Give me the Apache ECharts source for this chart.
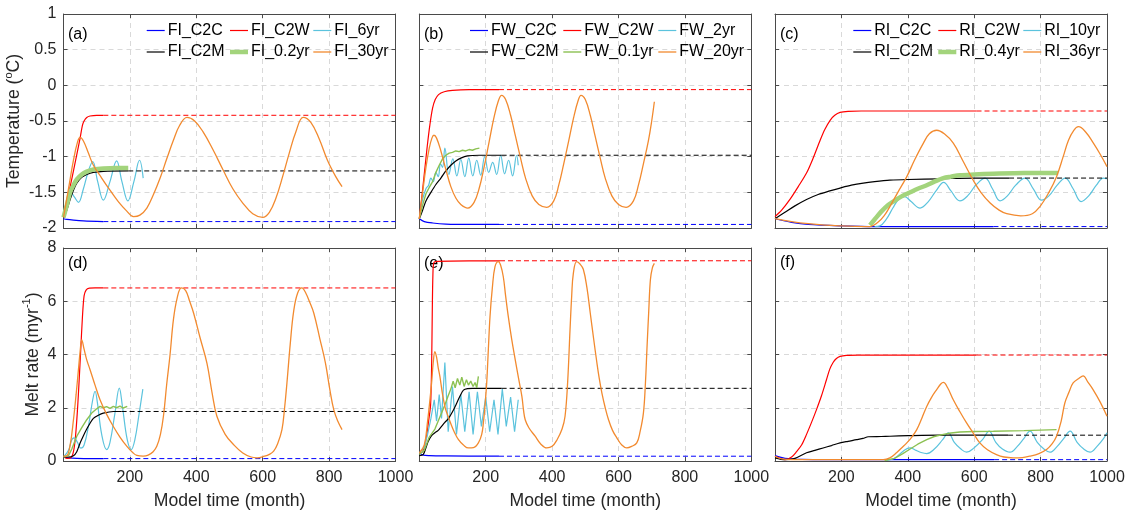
<!DOCTYPE html>
<html><head><meta charset="utf-8">
<script src="https://cdn.jsdelivr.net/npm/echarts@6/dist/echarts.min.js"></script>
<style>html,body{margin:0;padding:0;background:#fff}#c{width:1128px;height:511px}</style>
</head><body><div id="c"></div>
<script>
// ---------------- DATA (month, value) ----------------
// Panel (a) temperature, FI
const FI_C2C_T = [[0,-1.87],[10,-1.88],[30,-1.89],[60,-1.9],[120,-1.91]];
const FI_C2C_T_ext = [[120,-1.91],[1000,-1.91]];
const FI_C2W_T = [[0,-1.85],[10,-1.64],[20,-1.42],[30,-1.2],[40,-0.97],[50,-0.74],[57,-0.56],[62,-0.5],[70,-0.45],[80,-0.43],[100,-0.42],[120,-0.42]];
const FI_C2W_T_ext = [[120,-0.42],[1000,-0.42]];
const FI_6yr_T = [[0,-1.86],[10,-1.65],[22,-1.5],[32,-1.56],[45,-1.64],[60,-1.45],[75,-1.2],[88,-1.07],[103,-1.35],[120,-1.61],[140,-1.35],[160,-1.06],[176,-1.35],[194,-1.62],[212,-1.35],[229,-1.05],[240,-1.3]];
const FI_C2M_T = [[0,-1.86],[10,-1.75],[20,-1.6],[30,-1.47],[40,-1.37],[55,-1.29],[70,-1.25],[90,-1.22],[120,-1.205],[195,-1.2]];
const FI_C2M_T_ext = [[195,-1.2],[1000,-1.2]];
const FI_02yr_T = [[0,-1.85],[10,-1.68],[20,-1.5],[30,-1.4],[40,-1.32],[55,-1.25],[70,-1.21],[90,-1.18],[120,-1.165],[160,-1.16],[195,-1.16]];
const FI_30yr_T = [[0,-1.85],[15,-1.45],[30,-1.05],[42,-0.8],[50,-0.73],[60,-0.78],[75,-0.95],[90,-1.12],[115,-1.3],[140,-1.47],[165,-1.63],[190,-1.76],[211,-1.84],[230,-1.82],[251,-1.72],[271,-1.53],[291,-1.3],[311,-1.03],[331,-0.77],[350,-0.56],[372,-0.45],[395,-0.5],[420,-0.65],[450,-0.9],[480,-1.18],[510,-1.45],[540,-1.65],[570,-1.8],[600,-1.85],[620,-1.78],[640,-1.58],[660,-1.28],[680,-0.95],[700,-0.65],[722,-0.45],[745,-0.52],[770,-0.75],[795,-1.05],[820,-1.28],[839,-1.42]];

// Panel (b) temperature, FW
const FW_C2C_T = [[0,-1.87],[15,-1.91],[40,-1.93],[80,-1.945],[150,-1.95],[240,-1.95]];
const FW_C2C_T_ext = [[240,-1.95],[1000,-1.95]];
const FW_C2W_T = [[0,-1.87],[8,-1.55],[16,-1.2],[24,-0.85],[32,-0.55],[40,-0.32],[48,-0.2],[58,-0.13],[75,-0.09],[100,-0.07],[150,-0.06],[240,-0.06]];
const FW_C2W_T_ext = [[240,-0.06],[1000,-0.06]];
const FW_2yr_T = [[0,-1.87],[10,-1.6],[20,-1.45],[28,-1.4],[35,-1.3],[42,-1.35],[50,-1.22],[57,-1.28],[64,-1.1],[70,-1.15],[77,-0.88],[89,-1.25],[101,-1.03],[113,-1.27],[125,-1.04],[137,-1.28],[149,-1.02],[161,-1.27],[173,-1.05],[185,-1.26],[197,-1.0],[209,-1.22],[221,-1.08],[233,-1.25],[245,-0.98],[257,-1.24],[269,-1.05],[281,-1.27],[293,-0.98],[298,-1.12]];
const FW_C2M_T = [[0,-1.87],[10,-1.75],[20,-1.62],[35,-1.5],[50,-1.39],[65,-1.3],[80,-1.2],[95,-1.12],[110,-1.06],[125,-1.02],[145,-0.99],[180,-0.98],[248,-0.98]];
const FW_C2M_T_ext = [[248,-0.98],[1000,-0.98]];
const FW_01yr_T = [[0,-1.87],[10,-1.68],[20,-1.52],[30,-1.43],[40,-1.35],[50,-1.22],[60,-1.12],[70,-1.03],[80,-0.98],[90,-0.95],[100,-0.94],[110,-0.92],[120,-0.93],[130,-0.91],[140,-0.92],[150,-0.9],[160,-0.91],[170,-0.89],[181,-0.88]];
const FW_20yr_T = [[0,-1.87],[10,-1.5],[20,-1.15],[30,-0.88],[38,-0.74],[44,-0.7],[52,-0.74],[65,-0.92],[80,-1.18],[95,-1.42],[110,-1.58],[125,-1.67],[146,-1.72],[165,-1.64],[180,-1.45],[195,-1.15],[210,-0.8],[225,-0.45],[238,-0.22],[248,-0.14],[260,-0.2],[275,-0.42],[290,-0.72],[305,-1.02],[320,-1.3],[340,-1.55],[360,-1.67],[384,-1.71],[405,-1.62],[420,-1.4],[435,-1.1],[450,-0.78],[465,-0.45],[478,-0.22],[487,-0.14],[500,-0.2],[515,-0.42],[530,-0.72],[545,-1.02],[560,-1.3],[580,-1.55],[600,-1.67],[623,-1.71],[645,-1.62],[660,-1.4],[675,-1.1],[690,-0.78],[700,-0.5],[708,-0.23]];

// Panel (c) temperature, RI
const RI_C2C_T = [[0,-1.87],[50,-1.92],[100,-1.95],[200,-1.97],[300,-1.98],[658,-1.98]];
const RI_C2C_T_ext = [[658,-1.98],[1000,-1.98]];
const RI_C2W_T = [[0,-1.84],[20,-1.75],[45,-1.6],[70,-1.42],[95,-1.23],[115,-1.02],[136,-0.77],[150,-0.62],[166,-0.49],[180,-0.42],[196,-0.38],[220,-0.365],[260,-0.36],[607,-0.36]];
const RI_C2W_T_ext = [[607,-0.36],[1000,-0.36]];
const RI_10yr_T = [[300,-1.98],[316,-1.97],[335,-1.88],[355,-1.72],[372,-1.6],[390,-1.56],[410,-1.63],[437,-1.72],[460,-1.64],[485,-1.48],[508,-1.36],[530,-1.48],[557,-1.62],[580,-1.55],[605,-1.4],[633,-1.3],[655,-1.45],[678,-1.62],[700,-1.55],[725,-1.4],[753,-1.3],[778,-1.45],[803,-1.61],[825,-1.55],[850,-1.4],[874,-1.3],[898,-1.45],[922,-1.63],[945,-1.55],[968,-1.4],[989,-1.3],[1000,-1.31]];
const RI_C2M_T = [[0,-1.87],[30,-1.78],[60,-1.69],[95,-1.6],[130,-1.53],[165,-1.48],[196,-1.44],[230,-1.4],[266,-1.37],[300,-1.35],[346,-1.33],[400,-1.32],[500,-1.31],[600,-1.3],[705,-1.3]];
const RI_C2M_T_ext = [[705,-1.3],[1000,-1.3]];
const RI_04yr_T = [[286,-1.96],[300,-1.88],[320,-1.77],[340,-1.68],[356,-1.63],[380,-1.56],[407,-1.5],[430,-1.45],[457,-1.4],[480,-1.35],[507,-1.3],[530,-1.28],[557,-1.26],[600,-1.25],[658,-1.24],[750,-1.23],[853,-1.23]];
const RI_36yr_T = [[0,-1.87],[50,-1.91],[100,-1.94],[150,-1.96],[200,-1.97],[286,-1.98],[310,-1.92],[330,-1.82],[346,-1.7],[370,-1.5],[397,-1.28],[420,-1.05],[447,-0.81],[465,-0.68],[487,-0.63],[510,-0.68],[537,-0.81],[565,-1.05],[597,-1.33],[620,-1.5],[648,-1.65],[675,-1.75],[698,-1.8],[740,-1.83],[775,-1.8],[798,-1.7],[825,-1.5],[848,-1.28],[868,-1.0],[884,-0.77],[900,-0.63],[914,-0.58],[935,-0.65],[959,-0.81],[980,-0.97],[1000,-1.14]];

// Panel (d) melt rate, FI
const FI_C2C_M = [[0,0.15],[15,0.12],[40,0.1],[80,0.09],[120,0.09]];
const FI_C2C_M_ext = [[120,0.09],[1000,0.09]];
const FI_C2W_M = [[0,0.18],[10,0.1],[22,0.12],[30,0.35],[36,0.9],[42,1.9],[47,3.0],[52,4.2],[57,5.4],[62,6.2],[68,6.42],[78,6.49],[95,6.5],[120,6.5]];
const FI_C2W_M_ext = [[120,6.5],[1000,6.5]];
const FI_6yr_M = [[0,0.15],[15,0.4],[25,0.8],[32,0.87],[42,0.7],[52,0.48],[62,0.6],[75,1.3],[88,2.3],[95,2.62],[102,2.2],[115,1.0],[130,0.43],[140,0.7],[155,1.8],[168,2.74],[178,2.0],[192,0.8],[204,0.43],[215,0.8],[228,1.8],[239,2.7]];
const FI_C2M_M = [[0,0.15],[15,0.15],[30,0.2],[40,0.35],[50,0.68],[60,0.95],[70,1.2],[80,1.42],[90,1.6],[105,1.72],[120,1.8],[150,1.86],[175,1.86]];
const FI_C2M_M_ext = [[175,1.86],[1000,1.86]];
const FI_02yr_M = [[0,0.15],[15,0.2],[25,0.45],[40,0.93],[55,1.25],[70,1.55],[85,1.8],[100,1.96],[110,2.05],[120,2.0],[130,2.04],[140,1.98],[150,2.05],[160,2.0],[170,2.06],[180,1.99],[192,2.05]];
const FI_30yr_M = [[0,0.18],[10,0.2],[20,0.6],[30,1.55],[38,2.5],[45,3.43],[50,4.1],[55,4.55],[62,4.2],[70,3.8],[80,3.43],[95,2.85],[110,2.3],[130,1.75],[150,1.3],[170,0.9],[191,0.55],[210,0.3],[221,0.21],[240,0.18],[255,0.22],[270,0.35],[281,0.55],[292,1.0],[301,1.68],[311,2.9],[321,4.0],[331,5.3],[342,6.1],[355,6.5],[368,6.4],[380,6.0],[392,5.55],[412,4.6],[432,3.68],[447,2.6],[462,1.68],[487,1.0],[512,0.62],[540,0.3],[565,0.15],[583,0.12],[605,0.18],[620,0.25],[633,0.37],[645,0.65],[658,1.18],[666,2.0],[673,2.93],[683,4.4],[693,5.6],[705,6.3],[718,6.5],[730,6.3],[742,5.95],[754,5.55],[772,4.6],[789,3.68],[802,2.7],[814,1.93],[826,1.5],[839,1.18]];

// Panel (e) melt rate, FW
const FW_C2C_M = [[0,0.3],[12,0.22],[30,0.2],[80,0.19],[240,0.18]];
const FW_C2C_M_ext = [[240,0.18],[1000,0.18]];
const FW_C2W_M = [[0,0.3],[10,0.35],[20,0.8],[28,1.5],[34,2.1],[37,3.5],[39,5.5],[41,7.0],[44,7.45],[55,7.5],[150,7.52],[243,7.52]];
const FW_C2W_M_ext = [[243,7.52],[1000,7.52]];
const FW_2yr_M = [[0,0.3],[15,0.5],[25,1.0],[35,1.6],[45,2.3],[52,1.5],[60,2.5],[67,1.6],[77,3.7],[87,1.1],[100,2.8],[112,1.0],[125,2.5],[137,1.1],[150,2.6],[162,1.0],[175,2.6],[187,1.3],[200,2.4],[212,1.1],[225,2.3],[237,1.0],[250,2.7],[262,1.3],[275,2.4],[287,1.1],[298,2.3]];
const FW_C2M_M = [[0,0.2],[12,0.25],[20,0.5],[27,0.74],[37,0.95],[47,1.06],[57,1.15],[67,1.3],[77,1.45],[87,1.58],[100,1.85],[113,2.18],[123,2.45],[133,2.66],[145,2.72],[160,2.73],[248,2.73]];
const FW_C2M_M_ext = [[248,2.73],[1000,2.73]];
const FW_01yr_M = [[0,0.25],[15,0.4],[30,0.9],[47,1.2],[57,1.5],[67,1.8],[77,2.1],[87,2.45],[95,2.7],[102,3.0],[108,2.75],[115,3.1],[122,2.85],[128,3.15],[135,2.8],[142,3.05],[148,2.85],[155,3.0],[162,2.8],[168,2.95],[173,2.75],[178,3.18]];
const FW_20yr_M = [[0,0.3],[15,0.6],[25,1.5],[32,2.3],[37,2.93],[42,3.7],[47,4.11],[52,3.9],[57,3.5],[62,3.18],[70,2.5],[78,2.0],[83,1.8],[95,1.4],[105,1.1],[118,0.8],[133,0.6],[148,0.49],[163,0.5],[178,0.68],[188,1.0],[193,1.43],[198,2.1],[203,2.93],[208,4.2],[213,5.43],[220,6.5],[228,7.3],[238,7.49],[245,7.35],[253,6.92],[260,6.2],[268,5.43],[278,4.6],[289,3.8],[299,3.1],[309,2.43],[314,1.9],[319,1.55],[330,1.25],[349,0.93],[365,0.65],[384,0.49],[400,0.55],[415,0.8],[430,1.2],[439,1.68],[447,3.0],[454,4.93],[459,6.2],[464,7.05],[474,7.49],[484,7.4],[494,7.2],[505,6.5],[515,5.55],[525,4.6],[535,3.68],[542,3.1],[550,2.55],[560,2.0],[570,1.55],[582,1.15],[595,0.87],[610,0.6],[625,0.49],[640,0.55],[655,0.68],[665,1.1],[675,1.8],[681,2.9],[686,4.3],[691,5.6],[696,6.8],[702,7.25],[708,7.42]];

// Panel (f) melt rate, RI
const RI_C2C_M = [[0,0.2],[30,0.1],[80,0.06],[200,0.05],[660,0.05]];
const RI_C2C_M_ext = [[660,0.05],[1000,0.05]];
const RI_C2W_M = [[0,0.18],[15,0.1],[30,0.05],[50,0.15],[65,0.35],[80,0.6],[95,1.0],[110,1.45],[125,1.93],[140,2.45],[155,3.05],[165,3.45],[175,3.7],[185,3.85],[196,3.93],[215,3.97],[250,3.98],[607,3.98]];
const RI_C2W_M_ext = [[607,3.98],[1000,3.98]];
const RI_10yr_M = [[336,0.02],[360,0.1],[386,0.37],[407,0.49],[425,0.4],[440,0.32],[457,0.28],[480,0.45],[505,0.8],[522,1.06],[540,0.7],[560,0.45],[577,0.33],[600,0.5],[625,0.8],[645,1.12],[665,0.7],[685,0.45],[708,0.33],[730,0.55],[750,0.85],[768,1.12],[790,0.7],[810,0.45],[828,0.33],[850,0.55],[870,0.85],[889,1.12],[910,0.7],[930,0.45],[949,0.33],[970,0.55],[990,0.85],[1000,1.06]];
const RI_C2M_M = [[0,0.12],[30,0.05],[60,0.1],[95,0.31],[120,0.4],[145,0.49],[170,0.58],[196,0.68],[220,0.74],[246,0.8],[265,0.85],[281,0.91],[320,0.92],[346,0.93],[400,0.95],[497,0.97],[600,0.97],[702,0.97]];
const RI_C2M_M_ext = [[702,0.97],[1000,0.97]];
const RI_04yr_M = [[330,0.02],[360,0.1],[385,0.28],[407,0.45],[430,0.63],[457,0.8],[480,0.92],[507,1.0],[530,1.05],[557,1.09],[600,1.11],[658,1.12],[750,1.14],[848,1.18]];
const RI_36yr_M = [[0,0.18],[20,0.08],[50,0.05],[150,0.05],[326,0.05],[346,0.12],[366,0.31],[382,0.5],[397,0.68],[412,0.9],[427,1.18],[442,1.6],[457,2.05],[472,2.4],[487,2.68],[500,2.9],[507,2.95],[520,2.75],[537,2.3],[557,1.85],[577,1.43],[597,1.05],[617,0.68],[640,0.42],[667,0.24],[690,0.15],[717,0.12],[745,0.13],[767,0.18],[795,0.28],[818,0.43],[835,0.65],[848,0.93],[862,1.5],[873,2.18],[886,2.6],[898,2.93],[915,3.1],[928,3.2],[943,2.95],[958,2.68],[980,2.2],[1000,1.68]];

// axis ranges / ticks
const X_RANGE = [0, 1000], X_STEP = 200;
const T_RANGE = [-2, 1], T_STEP = 0.5;
const M_RANGE = [0, 8], M_STEP = 2;
const PANEL_LABELS = ['(a)','(b)','(c)','(d)','(e)','(f)'];
const PREFIX = ['FI','FW','RI'];
const FAST = ['0.2yr','0.1yr','0.4yr'];
const MID = ['6yr','2yr','10yr'];
const SLOW = ['30yr','20yr','36yr'];

// ---------------- STYLE / LAYOUT ----------------
const COL = {c2c:'#0000FF', c2w:'#FF0000', c2m:'#000000', fast:'#8CC152', fastThick:'#A3D47C', mid:'#5BC3DD', slow:'#F28A2F'};
const FONT = 'Liberation Sans, Arial, sans-serif';
const GL = [63.5, 419.3, 775], GW = 332;
const GT = [14, 248], GH = [214, 213.5];

const panelData = [
  {c2c:FI_C2C_T,c2cx:FI_C2C_T_ext,c2w:FI_C2W_T,c2wx:FI_C2W_T_ext,mid:FI_6yr_T,c2m:FI_C2M_T,c2mx:FI_C2M_T_ext,fast:FI_02yr_T,slow:FI_30yr_T,thick:true},
  {c2c:FW_C2C_T,c2cx:FW_C2C_T_ext,c2w:FW_C2W_T,c2wx:FW_C2W_T_ext,mid:FW_2yr_T,c2m:FW_C2M_T,c2mx:FW_C2M_T_ext,fast:FW_01yr_T,slow:FW_20yr_T,thick:false},
  {c2c:RI_C2C_T,c2cx:RI_C2C_T_ext,c2w:RI_C2W_T,c2wx:RI_C2W_T_ext,mid:RI_10yr_T,c2m:RI_C2M_T,c2mx:RI_C2M_T_ext,fast:RI_04yr_T,slow:RI_36yr_T,thick:true},
  {c2c:FI_C2C_M,c2cx:FI_C2C_M_ext,c2w:FI_C2W_M,c2wx:FI_C2W_M_ext,mid:FI_6yr_M,c2m:FI_C2M_M,c2mx:FI_C2M_M_ext,fast:FI_02yr_M,slow:FI_30yr_M,thick:false},
  {c2c:FW_C2C_M,c2cx:FW_C2C_M_ext,c2w:FW_C2W_M,c2wx:FW_C2W_M_ext,mid:FW_2yr_M,c2m:FW_C2M_M,c2mx:FW_C2M_M_ext,fast:FW_01yr_M,slow:FW_20yr_M,thick:false},
  {c2c:RI_C2C_M,c2cx:RI_C2C_M_ext,c2w:RI_C2W_M,c2wx:RI_C2W_M_ext,mid:RI_10yr_M,c2m:RI_C2M_M,c2mx:RI_C2M_M_ext,fast:RI_04yr_M,slow:RI_36yr_M,thick:false}
];

const grids=[], xAxes=[], yAxes=[], series=[], legends=[], graphics=[];
const axisLineStyle = {color:'#4a4a4a', width:1};
const tickStyle = {color:'#4a4a4a', width:1};
const splitStyle = {color:'#d9d9d9', width:1, type:[5,4]};

for (let i=0;i<6;i++){
  const row = i<3?0:1, col = i%3;
  grids.push({left:GL[col], top:GT[row], width:GW, height:GH[row], containLabel:false});
  const yr = row===0?T_RANGE:M_RANGE, ys = row===0?T_STEP:M_STEP;
  xAxes.push({type:'value', gridIndex:i, min:X_RANGE[0], max:X_RANGE[1], interval:X_STEP, position:'bottom',
    axisLine:{show:true, onZero:false, lineStyle:axisLineStyle},
    axisTick:{show:true, inside:true, length:4, lineStyle:tickStyle},
    axisLabel:{show:row===1, showMinLabel:false, fontSize:16, color:'#262626', fontFamily:FONT, margin:9,
      formatter:(v)=>String(v)},
    splitLine:{show:true, lineStyle:splitStyle},
    name: row===1?'Model time (month)':'', nameLocation:'middle', nameGap:31,
    nameTextStyle:{fontSize:17.6, color:'#262626', fontFamily:FONT}});
  xAxes.push({type:'value', gridIndex:i, min:X_RANGE[0], max:X_RANGE[1], interval:X_STEP, position:'top',
    axisLine:{show:true, onZero:false, lineStyle:axisLineStyle},
    axisTick:{show:true, inside:true, length:4, lineStyle:tickStyle},
    axisLabel:{show:false}, splitLine:{show:false}});
  const yName = col===0 ? (row===0 ? 'Temperature ({sup|o}C)' : 'Melt rate (myr{sup|-1})') : '';
  yAxes.push({type:'value', gridIndex:i, min:yr[0], max:yr[1], interval:ys, position:'left',
    axisLine:{show:true, onZero:false, lineStyle:axisLineStyle},
    axisTick:{show:true, inside:true, length:4, lineStyle:tickStyle},
    axisLabel:{show:col===0, fontSize:16, color:'#262626', fontFamily:FONT, margin:7, formatter:(v)=>String(v)},
    splitLine:{show:true, lineStyle:splitStyle},
    name:yName, nameLocation:'middle', nameGap: row===0 ? 31 : 14, nameRotate:90,
    nameTextStyle:{fontSize:17.6, color:'#262626', fontFamily:FONT, lineHeight:22,
      rich:{sup:{fontSize:11, fontFamily:FONT, color:'#262626', verticalAlign:'top', lineHeight:11}}}});
  yAxes.push({type:'value', gridIndex:i, min:yr[0], max:yr[1], interval:ys, position:'right',
    axisLine:{show:true, onZero:false, lineStyle:axisLineStyle},
    axisTick:{show:true, inside:true, length:4, lineStyle:tickStyle},
    axisLabel:{show:false}, splitLine:{show:false}});

  const d = panelData[i], p = PREFIX[col];
  const names = {c2c:p+'_C2C', c2w:p+'_C2W', mid:p+'_'+MID[col], c2m:p+'_C2M', fast:p+'_'+FAST[col], slow:p+'_'+SLOW[col]};
  const xi = i*2, yi = i*2;
  const mk = (name, data, color, width, opts) => Object.assign({
    type:'line', name, data, xAxisIndex:xi, yAxisIndex:yi, showSymbol:false, symbol:'none',
    lineStyle:{color, width}, itemStyle:{color}, animation:false, clip:true, silent:true
  }, opts||{});
  const dash = {type:[5,3]};
  const fastCol = d.thick ? COL.fastThick : COL.fast;
  const W = {c2c:1.2, c2w:1.2, mid:1.2, c2m:1.2, fast:d.thick?4.5:1.4, slow:1.3};
  const CC = {c2c:COL.c2c, c2w:COL.c2w, mid:COL.mid, c2m:COL.c2m, fast:fastCol, slow:COL.slow};
  series.push(mk(names.c2c, d.c2c, CC.c2c, W.c2c, {smooth:0.3}));
  series.push(mk(names.c2c+' ext', d.c2cx, CC.c2c, 1, {lineStyle:Object.assign({color:CC.c2c,width:1},dash)}));
  series.push(mk(names.c2w, d.c2w, CC.c2w, W.c2w, {smooth:0.3}));
  series.push(mk(names.c2w+' ext', d.c2wx, CC.c2w, 1, {lineStyle:Object.assign({color:CC.c2w,width:1},dash)}));
  series.push(mk(names.mid, d.mid, CC.mid, W.mid, {smooth: row===1 && col===1 ? false : 0.4}));
  series.push(mk(names.c2m, d.c2m, CC.c2m, W.c2m, {smooth:0.3}));
  series.push(mk(names.c2m+' ext', d.c2mx, CC.c2m, 1, {lineStyle:Object.assign({color:CC.c2m,width:1},dash)}));
  series.push(mk(names.fast, d.fast, CC.fast, W.fast, {smooth: d.thick?0.3:false}));
  series.push(mk(names.slow, d.slow, CC.slow, W.slow, {smooth:0.4}));

  if (row===0){
    const lx = [[146.7,230,313.3],[470,563.3,658.3],[853.3,938.3,1023.3]][col];
    const rowsY = [30.5, 52];
    const layout = [['c2c','c2w','mid'],['c2m','fast','slow']];
    for (let r=0;r<2;r++) for (let k=0;k<3;k++){
      const key = layout[r][k];
      legends.push({orient:'horizontal', left:lx[k], top:rowsY[r]-9, padding:0, itemWidth:18,
        itemHeight:Math.max(1.2, Math.min(W[key],4.5)), icon:'rect',
        data:[{name:names[key], icon:'rect', itemStyle:{color:CC[key]}}], selectedMode:false,
        textStyle:{fontSize:16, lineHeight:18, color:'#000', fontFamily:FONT, padding:[0,0,0,-2]}});
    }
  }
  const labPos = [[68,27],[424,27],[780,27],[68,256],[424,256],[780,255]][i];
  graphics.push({type:'text', left:labPos[0], top:labPos[1], style:{text:PANEL_LABELS[i], fontSize:16, fill:'#000', font:'16px '+FONT}});
}

const chart = echarts.init(document.getElementById('c'), null, {renderer:'canvas'});
chart.setOption({
  animation:false, backgroundColor:'#fff', textStyle:{fontFamily:FONT},
  grid:grids, xAxis:xAxes, yAxis:yAxes, series, legend:legends, graphic:graphics
});
</script></body></html>
